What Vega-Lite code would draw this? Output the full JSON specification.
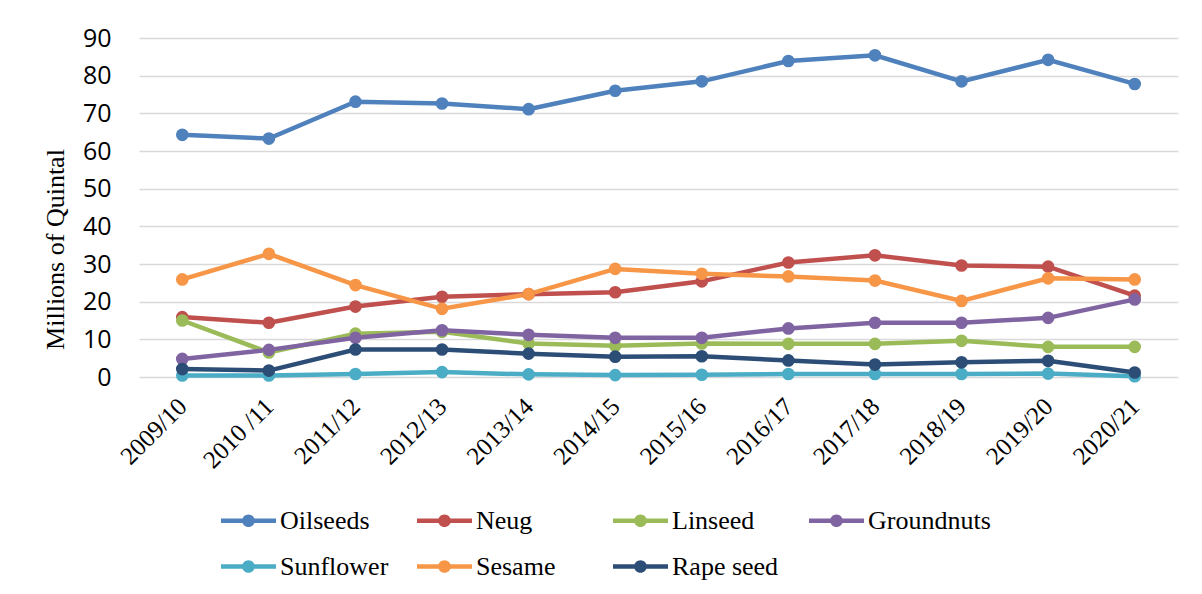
{
  "$schema": "https://vega.github.io/schema/vega-lite/v6.json",
  "autosize": "none",
  "width": 1039,
  "height": 339,
  "padding": {"left": 139, "top": 38, "right": 24, "bottom": 217},
  "background": "white",
  "config": {"view": {"stroke": null}},
  "data": {"values": [
    {"year": "2009/10", "crop": "Oilseeds", "value": 64.3},
    {"year": "2010 /11", "crop": "Oilseeds", "value": 63.3},
    {"year": "2011/12", "crop": "Oilseeds", "value": 73.1},
    {"year": "2012/13", "crop": "Oilseeds", "value": 72.6},
    {"year": "2013/14", "crop": "Oilseeds", "value": 71.1},
    {"year": "2014/15", "crop": "Oilseeds", "value": 76.0},
    {"year": "2015/16", "crop": "Oilseeds", "value": 78.5},
    {"year": "2016/17", "crop": "Oilseeds", "value": 83.9},
    {"year": "2017/18", "crop": "Oilseeds", "value": 85.4},
    {"year": "2018/19", "crop": "Oilseeds", "value": 78.5},
    {"year": "2019/20", "crop": "Oilseeds", "value": 84.2},
    {"year": "2020/21", "crop": "Oilseeds", "value": 77.8},
    {"year": "2009/10", "crop": "Neug", "value": 15.9},
    {"year": "2010 /11", "crop": "Neug", "value": 14.4},
    {"year": "2011/12", "crop": "Neug", "value": 18.7},
    {"year": "2012/13", "crop": "Neug", "value": 21.3},
    {"year": "2013/14", "crop": "Neug", "value": 22.0},
    {"year": "2014/15", "crop": "Neug", "value": 22.5},
    {"year": "2015/16", "crop": "Neug", "value": 25.4},
    {"year": "2016/17", "crop": "Neug", "value": 30.4},
    {"year": "2017/18", "crop": "Neug", "value": 32.3},
    {"year": "2018/19", "crop": "Neug", "value": 29.6},
    {"year": "2019/20", "crop": "Neug", "value": 29.3},
    {"year": "2020/21", "crop": "Neug", "value": 21.6},
    {"year": "2009/10", "crop": "Linseed", "value": 15.0},
    {"year": "2010 /11", "crop": "Linseed", "value": 6.5},
    {"year": "2011/12", "crop": "Linseed", "value": 11.5},
    {"year": "2012/13", "crop": "Linseed", "value": 12.0},
    {"year": "2013/14", "crop": "Linseed", "value": 8.9},
    {"year": "2014/15", "crop": "Linseed", "value": 8.3},
    {"year": "2015/16", "crop": "Linseed", "value": 8.9},
    {"year": "2016/17", "crop": "Linseed", "value": 8.8},
    {"year": "2017/18", "crop": "Linseed", "value": 8.8},
    {"year": "2018/19", "crop": "Linseed", "value": 9.6},
    {"year": "2019/20", "crop": "Linseed", "value": 8.0},
    {"year": "2020/21", "crop": "Linseed", "value": 8.0},
    {"year": "2009/10", "crop": "Groundnuts", "value": 4.8},
    {"year": "2010 /11", "crop": "Groundnuts", "value": 7.2},
    {"year": "2011/12", "crop": "Groundnuts", "value": 10.4},
    {"year": "2012/13", "crop": "Groundnuts", "value": 12.4},
    {"year": "2013/14", "crop": "Groundnuts", "value": 11.2},
    {"year": "2014/15", "crop": "Groundnuts", "value": 10.4},
    {"year": "2015/16", "crop": "Groundnuts", "value": 10.4},
    {"year": "2016/17", "crop": "Groundnuts", "value": 12.9},
    {"year": "2017/18", "crop": "Groundnuts", "value": 14.4},
    {"year": "2018/19", "crop": "Groundnuts", "value": 14.4},
    {"year": "2019/20", "crop": "Groundnuts", "value": 15.7},
    {"year": "2020/21", "crop": "Groundnuts", "value": 20.6},
    {"year": "2009/10", "crop": "Sunflower", "value": 0.4},
    {"year": "2010 /11", "crop": "Sunflower", "value": 0.4},
    {"year": "2011/12", "crop": "Sunflower", "value": 0.8},
    {"year": "2012/13", "crop": "Sunflower", "value": 1.3},
    {"year": "2013/14", "crop": "Sunflower", "value": 0.7},
    {"year": "2014/15", "crop": "Sunflower", "value": 0.5},
    {"year": "2015/16", "crop": "Sunflower", "value": 0.6},
    {"year": "2016/17", "crop": "Sunflower", "value": 0.8},
    {"year": "2017/18", "crop": "Sunflower", "value": 0.8},
    {"year": "2018/19", "crop": "Sunflower", "value": 0.8},
    {"year": "2019/20", "crop": "Sunflower", "value": 0.9},
    {"year": "2020/21", "crop": "Sunflower", "value": 0.2},
    {"year": "2009/10", "crop": "Sesame", "value": 25.9},
    {"year": "2010 /11", "crop": "Sesame", "value": 32.7},
    {"year": "2011/12", "crop": "Sesame", "value": 24.4},
    {"year": "2012/13", "crop": "Sesame", "value": 18.1},
    {"year": "2013/14", "crop": "Sesame", "value": 22.0},
    {"year": "2014/15", "crop": "Sesame", "value": 28.7},
    {"year": "2015/16", "crop": "Sesame", "value": 27.4},
    {"year": "2016/17", "crop": "Sesame", "value": 26.7},
    {"year": "2017/18", "crop": "Sesame", "value": 25.6},
    {"year": "2018/19", "crop": "Sesame", "value": 20.2},
    {"year": "2019/20", "crop": "Sesame", "value": 26.2},
    {"year": "2020/21", "crop": "Sesame", "value": 25.9},
    {"year": "2009/10", "crop": "Rape seed", "value": 2.1},
    {"year": "2010 /11", "crop": "Rape seed", "value": 1.7},
    {"year": "2011/12", "crop": "Rape seed", "value": 7.3},
    {"year": "2012/13", "crop": "Rape seed", "value": 7.3},
    {"year": "2013/14", "crop": "Rape seed", "value": 6.2},
    {"year": "2014/15", "crop": "Rape seed", "value": 5.4},
    {"year": "2015/16", "crop": "Rape seed", "value": 5.5},
    {"year": "2016/17", "crop": "Rape seed", "value": 4.4},
    {"year": "2017/18", "crop": "Rape seed", "value": 3.3},
    {"year": "2018/19", "crop": "Rape seed", "value": 3.9},
    {"year": "2019/20", "crop": "Rape seed", "value": 4.3},
    {"year": "2020/21", "crop": "Rape seed", "value": 1.2}
  ]},
  "encoding": {
    "x": {
      "field": "year", "type": "ordinal", "sort": null,
      "scale": {"type": "point", "padding": 0.5},
      "axis": {
        "title": null, "labelAngle": -45, "labelAlign": "right", "labelBaseline": "middle",
        "labelFont": "Liberation Serif", "labelFontSize": 25, "labelColor": "#000000",
        "labelPadding": 25, "ticks": false, "domain": false, "grid": false
      }
    },
    "y": {
      "field": "value", "type": "quantitative",
      "scale": {"domain": [0, 90], "nice": false},
      "axis": {
        "values": [0, 10, 20, 30, 40, 50, 60, 70, 80, 90],
        "title": "Millions of Quintal", "titleFont": "Liberation Serif", "titleFontSize": 26,
        "titleFontWeight": "normal", "titleColor": "#000000", "titleX": -84, "titleY": 211,
        "titleAngle": -90, "titleAlign": "center", "titleBaseline": "middle",
        "labelFont": "Open Sans", "labelFontSize": 25, "labelColor": "#000000", "labelPadding": 28,
        "ticks": false, "domain": false, "grid": true, "gridColor": "#D9D9D9", "gridWidth": 1.5
      }
    },
    "color": {
      "field": "crop", "type": "nominal",
      "scale": {
        "domain": ["Oilseeds", "Neug", "Linseed", "Groundnuts", "Sunflower", "Sesame", "Rape seed"],
        "range": ["#4F81BD", "#C0504D", "#9BBB59", "#8064A2", "#4BACC6", "#F79646", "#2C4D75"]
      },
      "legend": {
        "title": null, "orient": "none", "legendX": 82, "legendY": 455, "columns": 4,
        "direction": "horizontal", "gridAlign": "all", "columnPadding": 14, "rowPadding": 5,
        "symbolType": "M-1,-0.08L1,-0.08L1,0.08L-1,0.08Z M0.23,0A0.23,0.23 0 1,1 -0.23,0A0.23,0.23 0 1,1 0.23,0Z",
        "symbolSize": 3025, "symbolStrokeWidth": 0, "labelOffset": 4,
        "labelFont": "Liberation Serif", "labelFontSize": 26, "labelColor": "#000000",
        "labelLimit": 300,
        "encode": {"symbols": {"update": {"fill": {"scale": "color", "field": "value"}, "strokeWidth": {"value": 0}, "opacity": {"value": 1}}}}
      }
    }
  },
  "layer": [
    {"mark": {"type": "line", "strokeWidth": 4.5}},
    {"mark": {"type": "point", "filled": true, "size": 160, "opacity": 1}}
  ]
}
